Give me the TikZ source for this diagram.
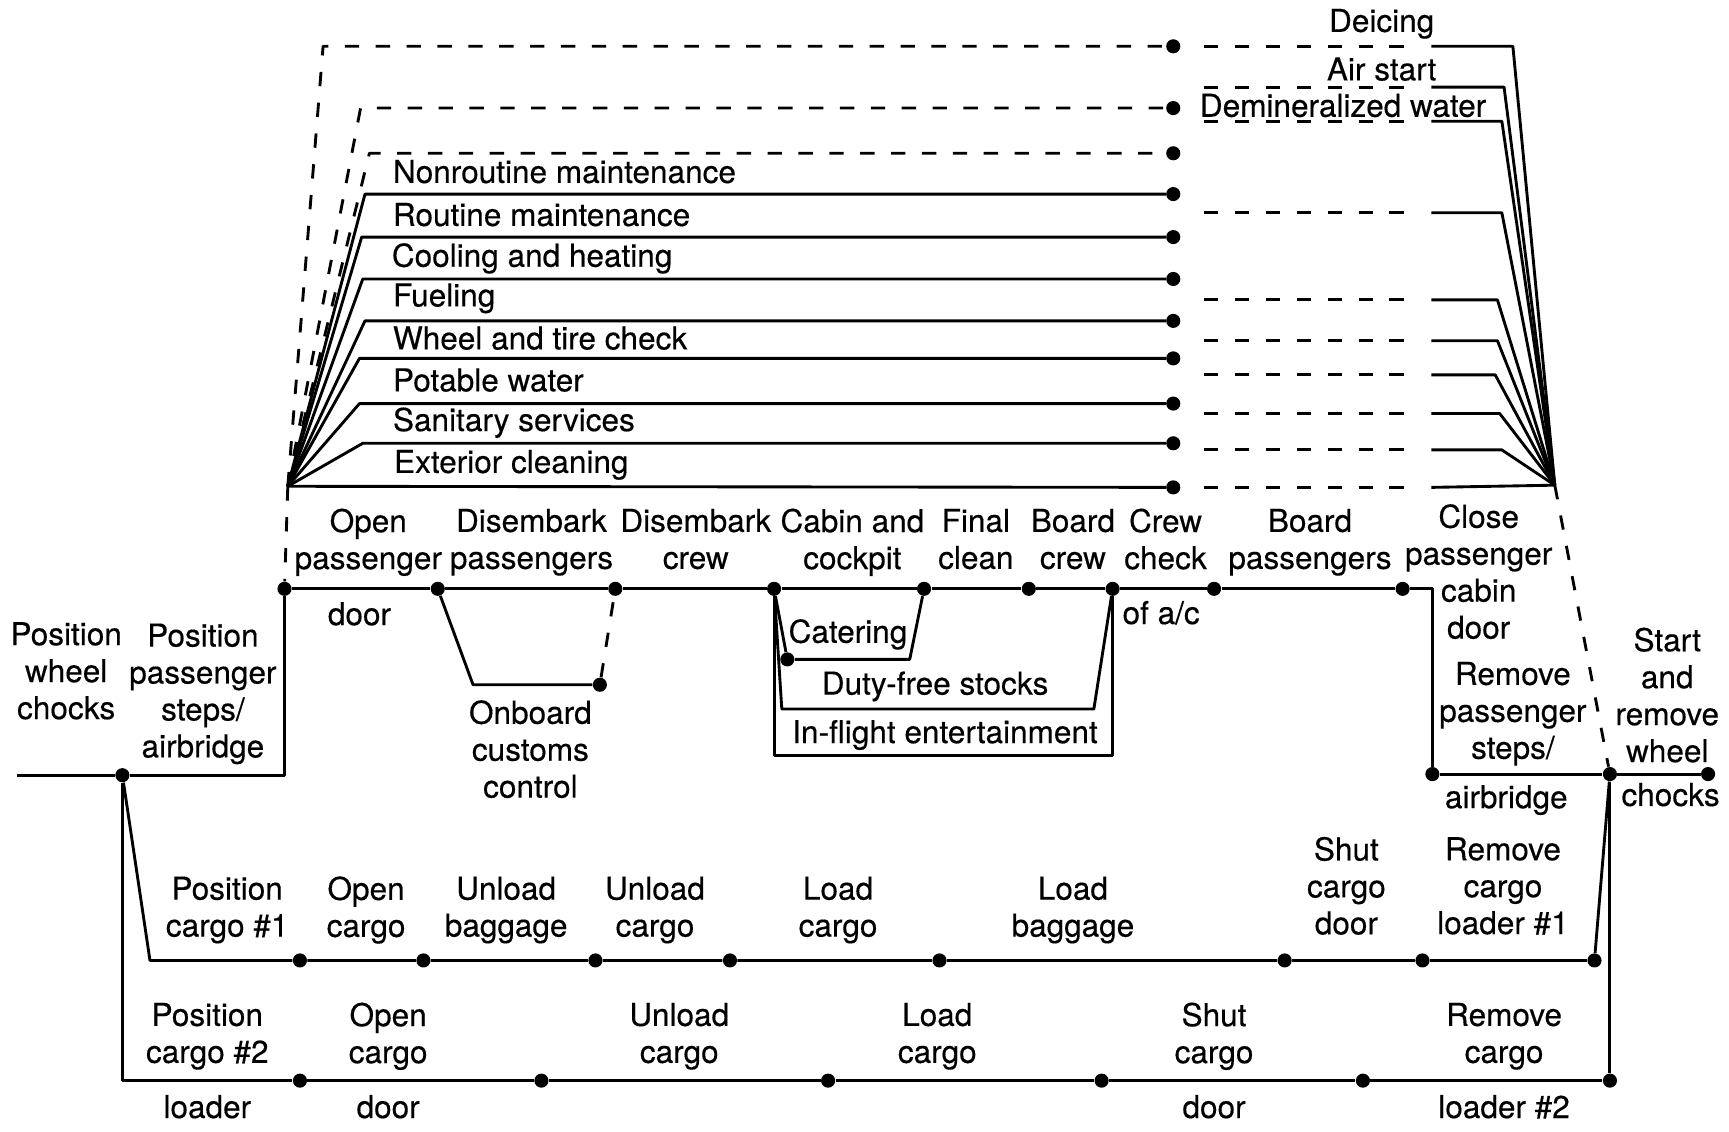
\documentclass[tikz,border=0pt]{standalone}
\usepackage{fontspec}
\setmainfont{TeX Gyre Heros}[FakeBold=0.35]
\begin{document}
\begin{tikzpicture}[x=0.5pt,y=-0.5pt,
  ln/.style={line width=1.3pt, line join=round},
  dsh/.style={ln, dash pattern=on 6.5pt off 7.5pt},
  dot/.style={circle, fill=black, inner sep=0pt, minimum size=6.4pt},
  lbl/.style={font=\fontsize{14.3}{16.75}\selectfont, align=center, inner sep=0pt,
    execute at begin node=\strut, execute at end node=\strut, yshift=-1.1pt},
  lw/.style={lbl, anchor=west, align=left}]
\useasboundingbox (0,0) rectangle (1568,1026);

% ---------- servicing fan (top) ----------
\coordinate (F) at (261,441);
\coordinate (G) at (1410,440);
\foreach \n/\y in {a/42,b/98,c/139,d/176,e/215,f/253,g/291,h/325,i/366,j/402,k/442}
  \node[dot] (t\n) at (1064,\y) {};
\foreach \n/\x/\y in {a/293/42,b/327/98,c/335/139}
  \draw[dsh] (F) -- (\x,\y) -- (t\n);
\foreach \n/\x/\y in {d/331/176,e/328/215,f/329/253,g/331/291,h/326/325,i/326/366,j/329/402}
  \draw[ln] (F) -- (\x,\y) -- (t\n);
\draw[ln] (F) -- (tk);

\foreach \y/\x in {42/1372,79/1364,110/1362,193/1362,272/1358,309/1358,340/1356,375/1360,408/1362}{
  \draw[dsh] (1092,\y) -- (1281,\y);
  \draw[ln] (1298,\y) -- (\x,\y) -- (G);
}
\draw[dsh] (1092,442) -- (1281,442);
\draw[ln] (1298,442) -- (G);

\node[lw] at (356,157) {Nonroutine maintenance};
\node[lw] at (356,196) {Routine maintenance};
\node[lw] at (355,233) {Cooling and heating};
\node[lw] at (356,269) {Fueling};
\node[lw] at (356,308) {Wheel and tire check};
\node[lw] at (356,346) {Potable water};
\node[lw] at (356,382) {Sanitary services};
\node[lw] at (357,420) {Exterior cleaning};
\node[lbl] at (1253,20) {Deicing};
\node[lbl] at (1253,64) {Air start};
\node[lbl] at (1218,97) {Demineralized water};

% ---------- passenger / cabin line ----------
\coordinate (l0) at (15,703);
\node[dot] (s) at (111,703) {};
\coordinate (c0) at (258,703);
\foreach \n/\x in {1/258,2/397,3/558,4/702,5/838,6/933,7/1009,8/1101,9/1272}
  \node[dot] (p\n) at (\x,534) {};
\coordinate (c1) at (1299,534);
\node[dot] (r1) at (1299,702) {};
\node[dot] (e) at (1460,702) {};
\node[dot] (z) at (1549,702) {};
\draw[ln] (l0) -- (s) -- (c0) -- (p1) -- (p2) -- (p3) -- (p4) -- (p5) -- (p6) -- (p7)
  -- (p8) -- (p9) -- (c1) -- (r1) -- (e) -- (z);
\draw[dsh] (F) -- (p1);
\draw[dsh] (G) -- (e);

% onboard customs branch
\coordinate (ob1) at (429,621);
\node[dot] (ob2) at (544,621) {};
\draw[ln] (p2) -- (ob1) -- (ob2);
\draw[dsh] (ob2) -- (p3);

% catering, duty-free, in-flight entertainment
\node[dot] (ct) at (714,598) {};
\coordinate (ct2) at (825,598);
\draw[ln] (p4) -- (ct) -- (ct2) -- (p5);
\coordinate (df1) at (709,643);
\coordinate (df2) at (992,643);
\draw[ln] (p4) -- (df1) -- (df2) -- (p7);
\coordinate (if1) at (702,685);
\coordinate (if2) at (1009,685);
\draw[ln] (p4) -- (if1) -- (if2) -- (p7);

\node[lbl] at (60,611) {Position\\wheel\\chocks};
\node[lbl] at (184,629) {Position\\passenger\\steps/\\airbridge};
\node[lbl] at (334,491.5) {Open\\passenger};
\node[lbl] at (326,558) {door};
\node[lbl] at (482,491.5) {Disembark\\passengers};
\node[lbl] at (481,682) {Onboard\\customs\\control};
\node[lbl] at (631,491.5) {Disembark\\crew};
\node[lbl] at (773,491.5) {Cabin and\\cockpit};
\node[lbl] at (885,491.5) {Final\\clean};
\node[lbl] at (973,491.5) {Board\\crew};
\node[lbl] at (1057,491.5) {Crew\\check};
\node[lbl] at (1053,557) {of a/c};
\node[lbl] at (1188,491.5) {Board\\passengers};
\node[lbl] at (1341,521) {Close\\passenger\\cabin\\door};
\node[lbl] at (769,574) {Catering};
\node[lbl] at (848,621) {Duty-free stocks};
\node[lbl] at (857,665) {In-flight entertainment};
\node[lbl] at (1372,647) {Remove\\passenger\\steps/};
\node[lbl] at (1366,724) {airbridge};
\node[lbl] at (1512,633) {Start\\and\\remove\\wheel};
\node[lbl] at (1515,722) {chocks};

% ---------- cargo loader #1 ----------
\coordinate (ka) at (136,871);
\foreach \n/\x in {1/272,2/384,3/540,4/662,5/852,6/1165,7/1290,8/1446}
  \node[dot] (k\n) at (\x,871) {};
\draw[ln] (s) -- (ka) -- (k1) -- (k2) -- (k3) -- (k4) -- (k5) -- (k6) -- (k7) -- (k8) -- (e);

\node[lbl] at (206,825) {Position\\cargo \#1};
\node[lbl] at (332,825) {Open\\cargo};
\node[lbl] at (459,825) {Unload\\baggage};
\node[lbl] at (594,825) {Unload\\cargo};
\node[lbl] at (760,825) {Load\\cargo};
\node[lbl] at (973,825) {Load\\baggage};
\node[lbl] at (1221,806) {Shut\\cargo\\door};
\node[lbl] at (1363,806) {Remove\\cargo\\loader \#1};

% ---------- cargo loader #2 ----------
\coordinate (ma) at (111,980);
\foreach \n/\x in {1/272,2/491,3/751,4/999,5/1236,6/1460}
  \node[dot] (m\n) at (\x,980) {};
\draw[ln] (s) -- (ma) -- (m1) -- (m2) -- (m3) -- (m4) -- (m5) -- (m6) -- (e);

\node[lbl] at (188,939.5) {Position\\cargo \#2};
\node[lbl] at (188,1005) {loader};
\node[lbl] at (352,939.5) {Open\\cargo};
\node[lbl] at (352,1005) {door};
\node[lbl] at (616,939.5) {Unload\\cargo};
\node[lbl] at (850,939.5) {Load\\cargo};
\node[lbl] at (1101,939.5) {Shut\\cargo};
\node[lbl] at (1101,1005) {door};
\node[lbl] at (1364,939.5) {Remove\\cargo};
\node[lbl] at (1364,1005) {loader \#2};
\end{tikzpicture}
\end{document}
